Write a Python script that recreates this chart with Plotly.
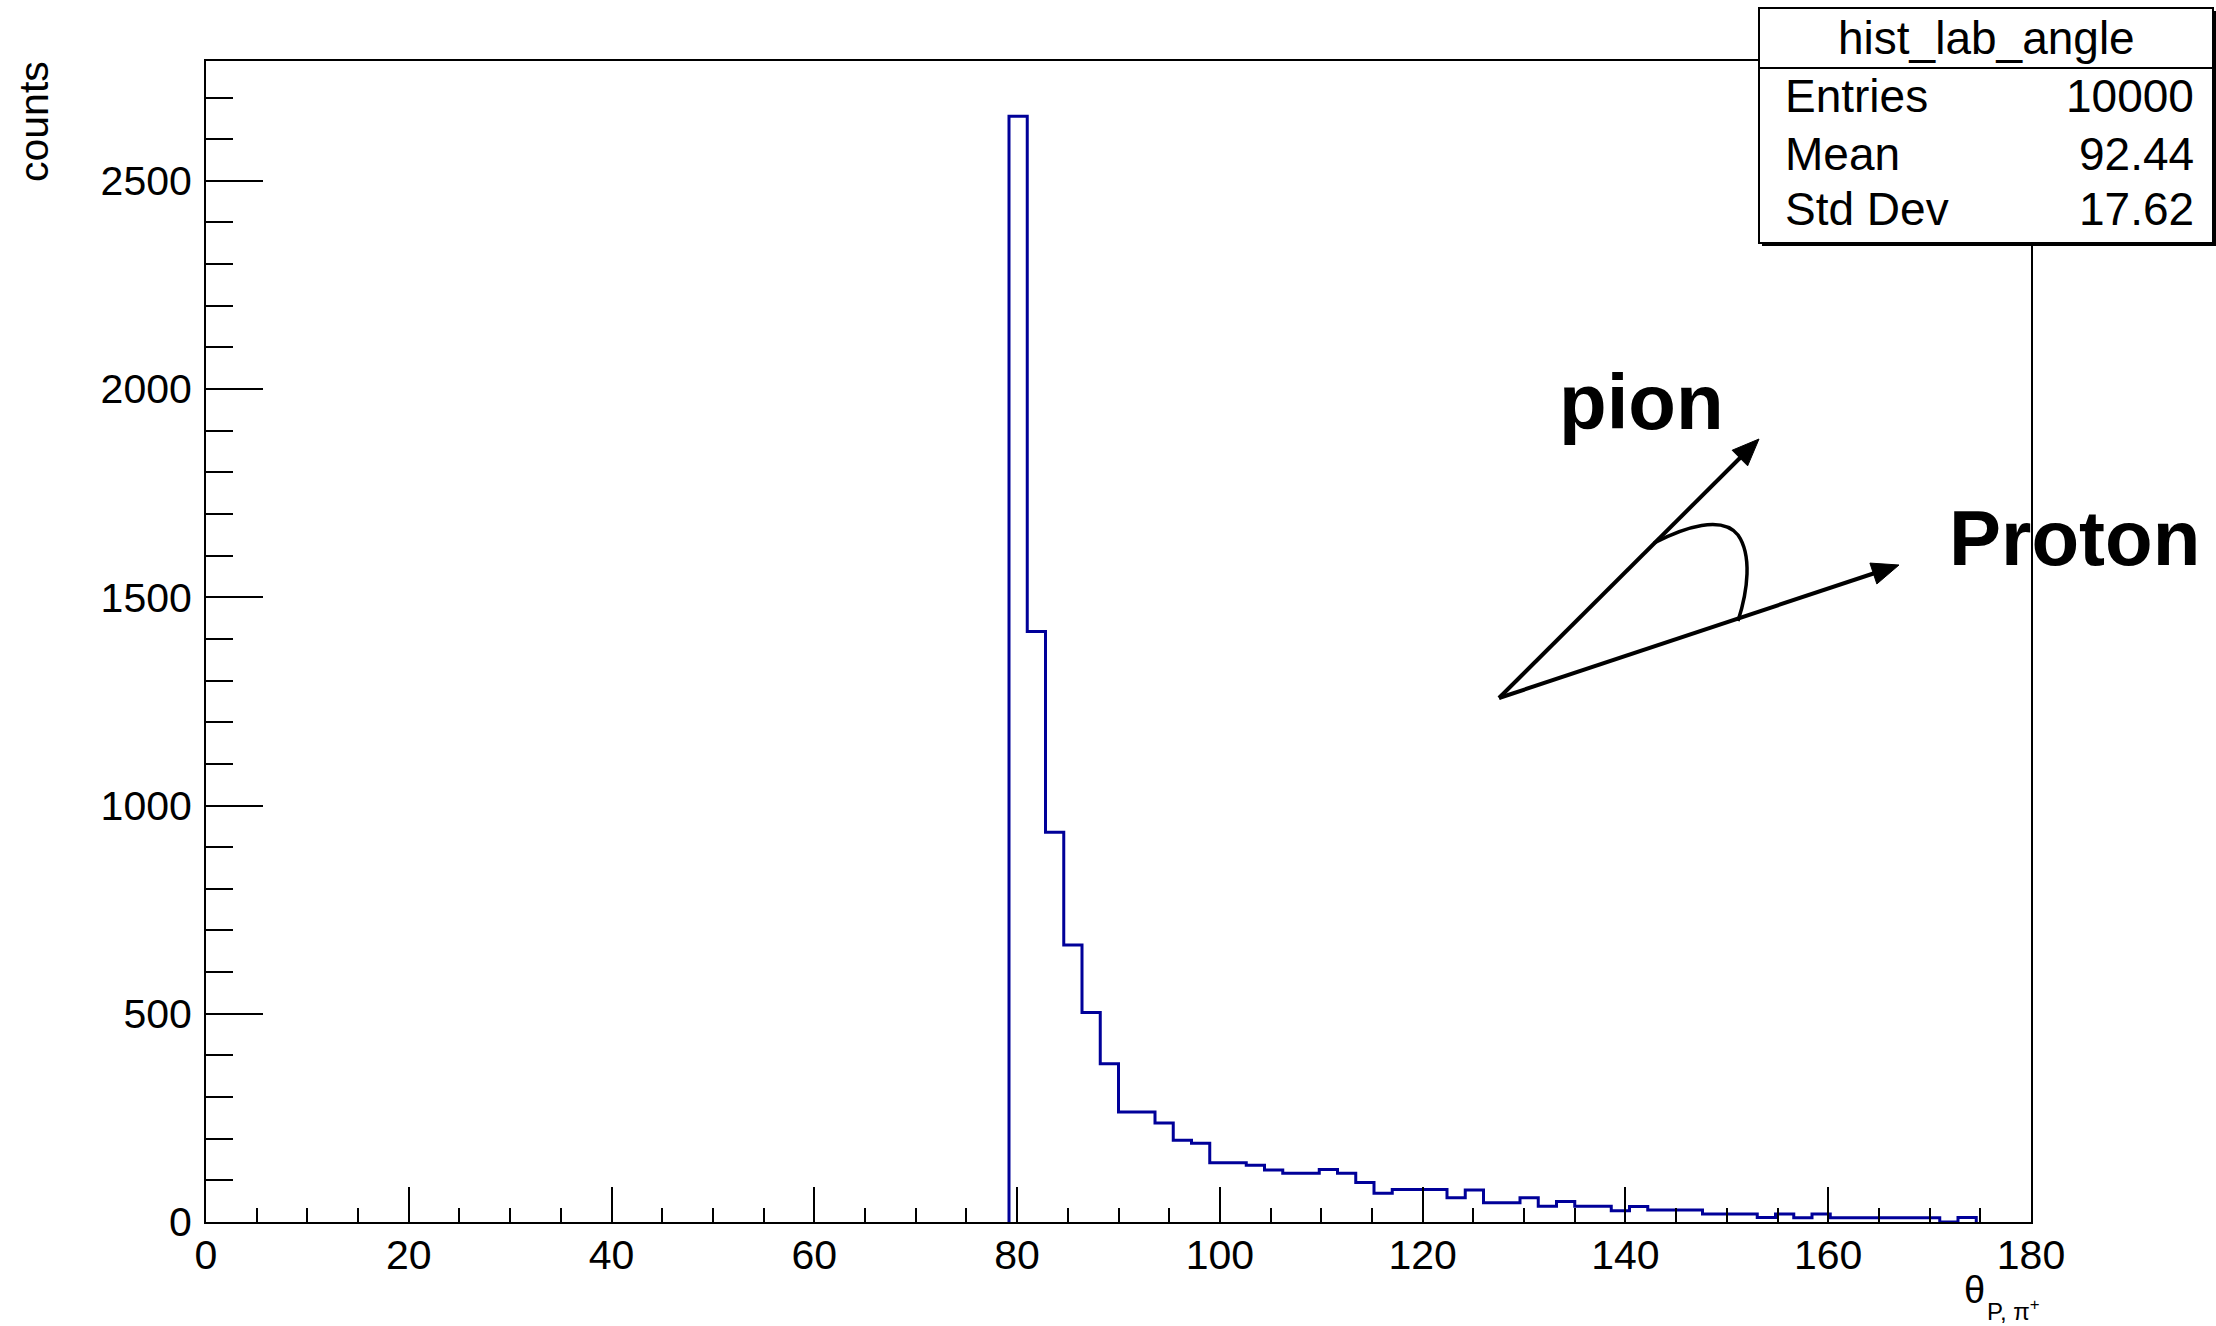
import numpy as np
import plotly.graph_objects as go

# ---- histogram definition: 100 equal bins on [0, 180] degrees ----
n_bins = 100
x_min, x_max = 0.0, 180.0
first_filled_bin = 44          # bin index of the first non-empty bin (79.2 deg)

# contents of bins 44 .. 96
bin_counts = [2655, 1418, 936, 665, 503, 380, 264, 264, 238, 196,
              189, 142, 142, 136, 125, 117, 117, 126, 117, 95,
              69, 78, 78, 78, 58, 77, 46, 46, 58, 38,
              49, 38, 38, 27, 37, 29, 29, 29, 19, 19,
              19, 11, 19, 10, 19, 10, 10, 10, 10, 10,
              10, 0, 11]

# statistics box
stats_title = "hist_lab_angle"
stats_names = ["Entries", "Mean", "Std Dev"]
stats_values = ["10000", "92.44", "17.62"]

x_title_main = "θ"
x_title_sub = "P, π<sup>+</sup>"
y_title = "counts"
y_max = 1.05 * max(bin_counts)

# ---- build the step outline (ROOT "HIST" style) ----
edges = np.linspace(x_min, x_max, n_bins + 1)
last_bin = first_filled_bin + len(bin_counts)
step_x = [edges[first_filled_bin]] + list(edges[first_filled_bin:last_bin + 1])
step_y = [0] + list(bin_counts) + [0]

# ---- canvas geometry (pixels) ----
W, H = 2216, 1326
L, R, T, B = 206, 185, 61, 104
PW, PH = W - L - R, H - T - B


def px(xp):
    return (xp - L) / PW


def py(yp):
    return (H - B - yp) / PH


FONT = "Liberation Sans, Arial, Helvetica, sans-serif"

fig = go.Figure()
fig.add_trace(go.Scatter(
    x=step_x, y=step_y, mode="lines",
    line=dict(color="#000099", width=3, shape="hv"),
    hoverinfo="skip", showlegend=False,
))

axis_common = dict(
    showline=True, linecolor="black", linewidth=2, mirror=True,
    showgrid=False, zeroline=False,
    ticks="inside", tickcolor="black", tickwidth=2,
    tickfont=dict(family=FONT, size=41, color="black"),
)

fig.update_xaxes(
    range=[x_min, x_max], tick0=0, dtick=20, ticklen=35,
    minor=dict(ticks="inside", dtick=5, ticklen=14, tickwidth=2, tickcolor="black"),
    ticklabelstandoff=-4,
    **axis_common,
)
fig.update_yaxes(
    range=[0, y_max], tick0=0, dtick=500, ticklen=57,
    minor=dict(ticks="inside", dtick=100, ticklen=27, tickwidth=2, tickcolor="black"),
    ticklabelstandoff=4,
    **axis_common,
)

shapes = []
annotations = []

# statistics box with drop shadow
bx0, by0, bx1, by1 = 1759, 8, 2213, 243
shapes.append(dict(type="rect", xref="paper", yref="paper",
                   x0=px(bx0 + 3), x1=px(bx1 + 3), y0=py(by1 + 3), y1=py(by0 + 3),
                   fillcolor="black", line=dict(width=0), layer="above"))
shapes.append(dict(type="rect", xref="paper", yref="paper",
                   x0=px(bx0), x1=px(bx1), y0=py(by1), y1=py(by0),
                   fillcolor="white", line=dict(color="black", width=2), layer="above"))
shapes.append(dict(type="line", xref="paper", yref="paper",
                   x0=px(bx0), x1=px(bx1), y0=py(68), y1=py(68),
                   line=dict(color="black", width=2), layer="above"))

annotations.append(dict(xref="paper", yref="paper", x=px((bx0 + bx1) / 2), y=py(38),
                        text=stats_title, showarrow=False, xanchor="center", yanchor="middle",
                        font=dict(family=FONT, size=46, color="black")))
for i, (name, val) in enumerate(zip(stats_names, stats_values)):
    ym = [96, 154, 209][i]
    annotations.append(dict(xref="paper", yref="paper", x=px(1783), y=py(ym),
                            text=name, showarrow=False, xanchor="left", yanchor="middle",
                            font=dict(family=FONT, size=46, color="black")))
    annotations.append(dict(xref="paper", yref="paper", x=px(2196), y=py(ym),
                            text=val, showarrow=False, xanchor="right", yanchor="middle",
                            font=dict(family=FONT, size=46, color="black")))

# axis titles
annotations.append(dict(xref="paper", yref="paper", x=px(34), y=py(122),
                        text=y_title, textangle=-90, showarrow=False,
                        xanchor="center", yanchor="middle",
                        font=dict(family=FONT, size=41, color="black")))
annotations.append(dict(xref="paper", yref="paper", x=px(1974), y=py(1290),
                        text=x_title_main, showarrow=False,
                        xanchor="center", yanchor="middle",
                        font=dict(family=FONT, size=38, color="black")))
annotations.append(dict(xref="paper", yref="paper", x=px(1985), y=py(1310),
                        text=x_title_sub, showarrow=False,
                        xanchor="left", yanchor="middle",
                        font=dict(family=FONT, size=24, color="black")))

# sketch of the opening angle between the two tracks
origin = np.array([1499.0, 698.0])
pion_tip = np.array([1759.0, 439.0])
proton_tip = np.array([1899.0, 565.0])
head_len, head_half = 27.0, 11.0
for tip in (pion_tip, proton_tip):
    d = (tip - origin) / np.linalg.norm(tip - origin)
    nrm = np.array([-d[1], d[0]])
    base = tip - d * head_len
    shaft_end = tip - d * (head_len - 4)
    shapes.append(dict(type="line", xref="paper", yref="paper",
                       x0=px(origin[0]), y0=py(origin[1]),
                       x1=px(shaft_end[0]), y1=py(shaft_end[1]),
                       line=dict(color="black", width=4), layer="above"))
    c1 = base + nrm * head_half
    c2 = base - nrm * head_half
    head_path = (f"M{px(tip[0])},{py(tip[1])} L{px(c1[0])},{py(c1[1])} "
                 f"L{px(c2[0])},{py(c2[1])} Z")
    shapes.append(dict(type="path", xref="paper", yref="paper", path=head_path,
                       fillcolor="black", line=dict(color="black", width=1), layer="above"))

arc_pts = [(1654, 543), (1685, 527), (1722, 515), (1738, 535),
           (1752, 555), (1748, 590), (1738, 621)]
p = [(px(a), py(b)) for a, b in arc_pts]
arc_path = (f"M{p[0][0]},{p[0][1]} C{p[1][0]},{p[1][1]} {p[2][0]},{p[2][1]} {p[3][0]},{p[3][1]} "
            f"C{p[4][0]},{p[4][1]} {p[5][0]},{p[5][1]} {p[6][0]},{p[6][1]}")
shapes.append(dict(type="path", xref="paper", yref="paper", path=arc_path,
                   line=dict(color="black", width=3.5), layer="above"))

annotations.append(dict(xref="paper", yref="paper", x=px(1641), y=py(402),
                        text="<b>pion</b>", showarrow=False, xanchor="center", yanchor="middle",
                        font=dict(family=FONT, size=78, color="black")))
annotations.append(dict(xref="paper", yref="paper", x=px(2074), y=py(538),
                        text="<b>Proton</b>", showarrow=False, xanchor="center", yanchor="middle",
                        font=dict(family=FONT, size=78, color="black")))

fig.update_layout(
    width=W, height=H, autosize=False,
    margin=dict(l=L, r=R, t=T, b=B, pad=0),
    paper_bgcolor="white", plot_bgcolor="white",
    shapes=shapes, annotations=annotations,
    showlegend=False,
)

fig.write_html("out.html", config={"displayModeBar": False})
